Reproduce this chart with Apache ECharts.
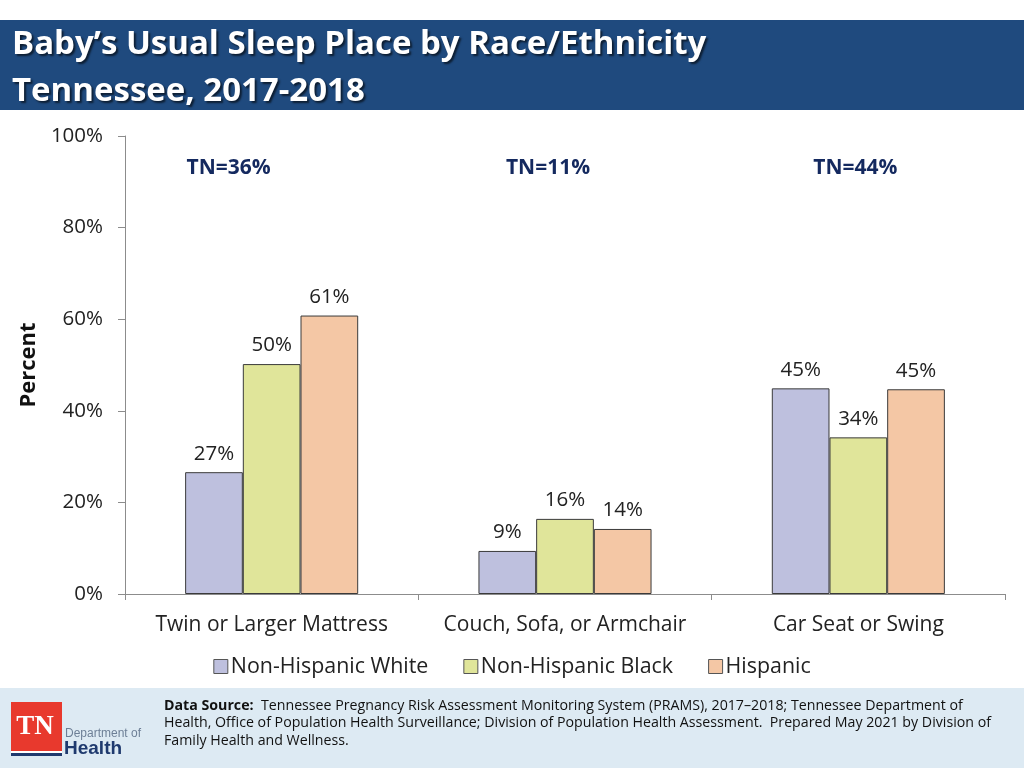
<!DOCTYPE html>
<html>
<head>
<meta charset="utf-8">
<script src="https://cdn.jsdelivr.net/npm/echarts@6/dist/echarts.min.js"></script>
<style>
html,body{margin:0;padding:0;background:#fff;}
#c{width:1024px;height:768px;}
</style>
</head>
<body>
<div id="c"></div>
<script>
var categories = ['Twin or Larger Mattress', 'Couch, Sofa, or Armchair', 'Car Seat or Swing'];
var seriesNames = ['Non-Hispanic White', 'Non-Hispanic Black', 'Hispanic'];
var nhWhite = [26.6, 9.4, 44.9];
var nhBlack = [50.2, 16.4, 34.2];
var hispanic = [60.8, 14.2, 44.7];
var tnTotals = ['TN=36%', 'TN=11%', 'TN=44%'];
var yTicks = [0, 20, 40, 60, 80, 100];

var colors = ['#BEC0DE', '#E0E59A', '#F4C7A5'];
var FONT = 'Open Sans';

var chart = echarts.init(document.getElementById('c'));

function barSeries(name, data, color) {
  return {
    name: name,
    type: 'bar',
    data: data,
    barGap: '0%',
    barCategoryGap: '41%',
    itemStyle: { color: color, borderColor: '#3a3a3a', borderWidth: 1 },
    label: {
      show: true,
      position: 'top',
      distance: 8,
      fontFamily: FONT,
      fontSize: 20.5,
      color: '#222',
      formatter: function (p) { return Math.round(p.value) + '%'; }
    }
  };
}

var option = {
  animation: false,
  backgroundColor: '#ffffff',
  grid: { left: 125, right: 19, top: 136, bottom: 174 },
  legend: {
    data: seriesNames,
    left: 'center',
    icon: 'rect',
    itemWidth: 14,
    itemHeight: 14,
    itemGap: 35,
    top: 651,
    textStyle: { fontFamily: FONT, fontSize: 21.4, color: '#222', padding: [0, 0, 0, -2] },
    itemStyle: { borderColor: '#555', borderWidth: 1 }
  },
  xAxis: {
    type: 'category',
    data: categories,
    axisLine: { lineStyle: { color: '#8c8c8c', width: 1 } },
    axisTick: { show: true, alignWithLabel: false, length: 6, lineStyle: { color: '#8c8c8c' } },
    axisLabel: { fontFamily: FONT, fontSize: 21, color: '#222', margin: 21, interval: 0 }
  },
  yAxis: {
    type: 'value',
    min: yTicks[0],
    max: yTicks[yTicks.length - 1],
    interval: 20,
    name: 'Percent',
    nameLocation: 'middle',
    nameGap: 77,
    nameTextStyle: { fontFamily: FONT, fontSize: 22, fontWeight: 'bold', color: '#111' },
    axisLine: { show: true, lineStyle: { color: '#8c8c8c', width: 1 } },
    axisTick: { show: true, length: 7, lineStyle: { color: '#8c8c8c' } },
    splitLine: { show: false },
    axisLabel: { fontFamily: FONT, fontSize: 20.5, color: '#222', margin: 22, formatter: '{value}%' }
  },
  series: [
    barSeries(seriesNames[0], nhWhite, colors[0]),
    barSeries(seriesNames[1], nhBlack, colors[1]),
    barSeries(seriesNames[2], hispanic, colors[2])
  ]
};
chart.setOption(option);

var tnOffsets = [-43, -17, -3];
var tnElems = tnTotals.map(function (t, i) {
  var x = chart.convertToPixel({ xAxisIndex: 0 }, categories[i]) + tnOffsets[i];
  var y = chart.convertToPixel({ yAxisIndex: 0 }, 93);
  return {
    type: 'text', x: x, y: y,
    style: { text: t, fontFamily: FONT, fontSize: 21, fontWeight: 'bold', fill: '#14295f', align: 'center', verticalAlign: 'middle' }
  };
});

var shadow = { textShadowColor: 'rgba(0,0,0,0.6)', textShadowOffsetX: 2, textShadowOffsetY: 2, textShadowBlur: 2 };
var headerElems = [
  { type: 'rect', shape: { x: 0, y: 20, width: 1024, height: 90 }, style: { fill: '#1F4A7E' } },
  { type: 'text', x: 12, y: 45, style: Object.assign({ text: 'Baby\u2019s Usual Sleep Place by Race/Ethnicity', fontFamily: FONT, fontSize: 33, fontWeight: 'bold', fill: '#ffffff', verticalAlign: 'middle' }, shadow) },
  { type: 'text', x: 12, y: 92, style: Object.assign({ text: 'Tennessee, 2017-2018', fontFamily: FONT, fontSize: 33, fontWeight: 'bold', fill: '#ffffff', verticalAlign: 'middle' }, shadow) }
];

var footerElems = [
  { type: 'rect', shape: { x: 0, y: 688, width: 1024, height: 80 }, style: { fill: '#DDEAF3' } },
  { type: 'rect', shape: { x: 11, y: 702, width: 51, height: 49 }, style: { fill: '#E8392D' } },
  { type: 'rect', shape: { x: 11, y: 751, width: 51, height: 2 }, style: { fill: '#ffffff' } },
  { type: 'rect', shape: { x: 11, y: 753, width: 51, height: 3 }, style: { fill: '#1F3A6E' } },
  { type: 'text', x: 35, y: 727, style: { text: 'TN', fontFamily: 'Liberation Serif', fontSize: 27, fontWeight: 'bold', fill: '#ffffff', align: 'center', verticalAlign: 'middle' } },
  { type: 'text', x: 65, y: 734, style: { text: 'Department of', fontFamily: 'Liberation Sans Narrow, Liberation Sans', fontSize: 12, fill: '#6d7f96', verticalAlign: 'middle' } },
  { type: 'text', x: 64, y: 749, style: { text: 'Health', fontFamily: 'Liberation Sans Narrow, Liberation Sans', fontSize: 19, fontWeight: 'bold', fill: '#1F3A6E', verticalAlign: 'middle' } },
  { type: 'text', x: 164, y: 697, style: {
      text: '{b|Data Source:}  Tennessee Pregnancy Risk Assessment Monitoring System (PRAMS), 2017\u20132018; Tennessee Department of\nHealth, Office of Population Health Surveillance; Division of Population Health Assessment.  Prepared May 2021 by Division of\nFamily Health and Wellness.',
      fontFamily: FONT, fontSize: 14.2, fill: '#111', lineHeight: 17.5,
      rich: { b: { fontFamily: FONT, fontSize: 14.2, fontWeight: 'bold', fill: '#111', lineHeight: 17.5 } }
  } }
];

chart.setOption({ graphic: { elements: headerElems.concat(footerElems).concat(tnElems) } });
</script>
</body>
</html>
